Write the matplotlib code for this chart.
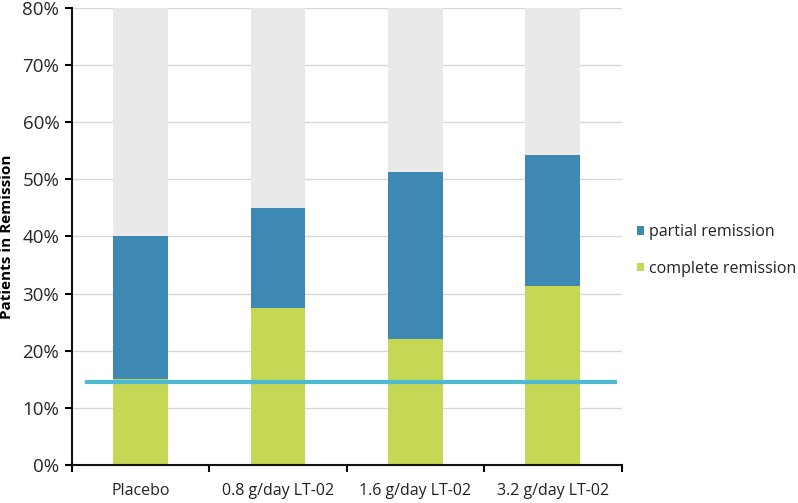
import matplotlib
matplotlib.use("Agg")
import matplotlib.pyplot as plt
import numpy as np

categories = ["Placebo", "0.8 g/day LT-02", "1.6 g/day LT-02", "3.2 g/day LT-02"]
complete = [15.0, 27.5, 22.0, 31.3]
total = [40.0, 45.0, 51.2, 54.3]
partial = [t - c for t, c in zip(total, complete)]
ceiling = 80.0
placebo_line = 14.5
yticks = [0, 10, 20, 30, 40, 50, 60, 70, 80]

plt.rcParams['font.family'] = ['Open Sans', 'DejaVu Sans']

fig = plt.figure(figsize=(7.98, 5.03), dpi=100)
ax = fig.add_axes([0.090, 0.0755, 0.689, 0.909])

x = np.arange(len(categories))
w = 0.4
green = "#C6D655"
blue = "#3E89B4"
gray = "#E9E9E9"
cyan = "#4CBAD3"

rest = [ceiling - t for t in total]
ax.bar(x, complete, w, color=green, zorder=2, label="complete remission")
ax.bar(x, partial, w, bottom=complete, color=blue, zorder=2, label="partial remission")
ax.bar(x, rest, w, bottom=total, color=gray, zorder=2)

ax.plot([-0.39, 3.45], [placebo_line, placebo_line], color=cyan, lw=3, zorder=3)

ax.set_ylim(0, 80)
ax.set_xlim(-0.5, 3.5)
ax.set_yticks(yticks)
ax.set_yticklabels([f"{v}%" for v in yticks], fontsize=13.5, color="#262626")
ax.yaxis.grid(True, color="#D8D8D8", lw=1, zorder=0)
ax.set_axisbelow(True)

ax.set_xticks(x)
ax.set_xticklabels(categories, fontsize=11.5, color="#222222")
ax.tick_params(axis='x', which='major', length=0, pad=13)
ax.set_xticks(np.arange(-0.5, 4.0, 1.0), minor=True)
ax.tick_params(axis='x', which='minor', length=5, width=1.5, direction='out')
ax.tick_params(axis='y', length=5, width=1.5, direction='out', pad=4)

for s in ['top', 'right']:
    ax.spines[s].set_visible(False)
for s in ['left', 'bottom']:
    ax.spines[s].set_linewidth(1.5)
    ax.spines[s].set_color("#111111")

ax.set_ylabel("Patients in Remission", fontsize=11, fontweight='bold', labelpad=6)

handles, labels = ax.get_legend_handles_labels()
leg = fig.legend(handles[::-1], labels[::-1], loc='center left',
                 bbox_to_anchor=(0.798, 0.502), frameon=False, fontsize=11.5,
                 handlelength=0.45, handleheight=0.45, handletextpad=0.3,
                 labelspacing=1.3, borderpad=0, borderaxespad=0)
for t in leg.get_texts():
    t.set_color("#222222")

fig.savefig("out.png", dpi=100)
